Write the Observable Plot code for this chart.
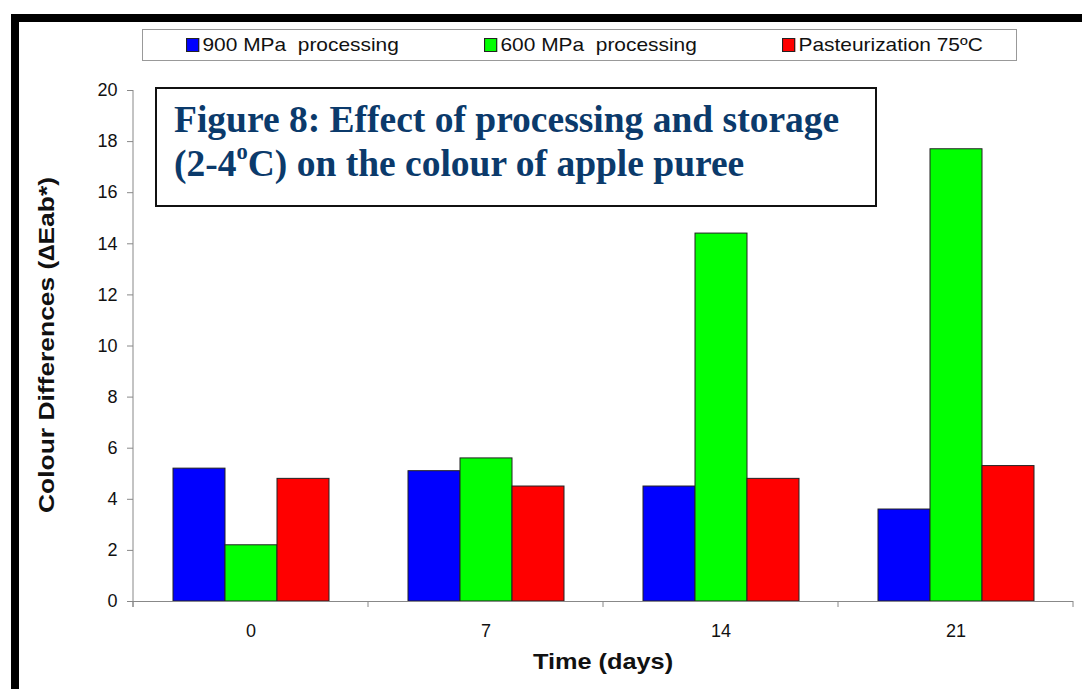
<!DOCTYPE html>
<html><head><meta charset="utf-8">
<script src="https://cdn.jsdelivr.net/npm/d3@7"></script>
<script src="https://cdn.jsdelivr.net/npm/@observablehq/plot@0.6"></script>
<style>
body{margin:0;background:#fff;}
#wrap{position:relative;width:1082px;height:689px;overflow:hidden;font-family:"Liberation Sans",Arial,sans-serif;background:#fff;}
#wrap svg{position:absolute;left:0;top:0;}
.bandTop{position:absolute;left:11px;top:14px;width:1071px;height:8px;background:#000;}
.bandLeft{position:absolute;left:11px;top:14px;width:8px;height:675px;background:#000;}
#legend{position:absolute;left:142px;top:29px;width:875px;height:32px;border:1px solid #999;background:#fff;box-sizing:border-box;}
.item{position:absolute;top:5px;font-size:19px;color:#111;white-space:pre;line-height:20px;transform-origin:0 50%;transform:scaleX(1.1);}
.sw{display:inline-block;width:10px;height:12px;border:1px solid #222;margin-right:3px;vertical-align:-1px;}
#title{position:absolute;left:155px;top:87px;width:722px;height:120px;border:2px solid #111;box-sizing:border-box;background:#fff;
  font-family:"Liberation Serif","Times New Roman",serif;font-weight:bold;font-size:37.5px;line-height:44px;color:#0b3a6b;padding:9px 0 0 17px;white-space:nowrap;}
#title sup{font-size:0.6em;vertical-align:0.75em;line-height:0;}
#ylab{position:absolute;left:47px;top:345px;transform:translate(-50%,-50%) rotate(-90deg) scaleX(1.2);font-weight:bold;font-size:22px;white-space:nowrap;color:#111;}
#xlab{position:absolute;left:603px;top:662px;transform:translate(-50%,-50%) scaleX(1.15);font-weight:bold;font-size:22px;white-space:nowrap;color:#111;}
</style></head><body><div id="wrap"></div>
<script>
const days = ["0", "7", "14", "21"];
const series = ["900 MPa  processing", "600 MPa  processing", "Pasteurization 75ºC"];
const seriesColors = ["#0000ff", "#00ff00", "#ff0000"];
const values900 = [5.2, 5.1, 4.5, 3.6];
const values600 = [2.2, 5.6, 14.4, 17.7];
const valuesPast = [4.8, 4.5, 4.8, 5.3];
const yTicks = [0, 2, 4, 6, 8, 10, 12, 14, 16, 18, 20];
const titleLine1 = "Figure 8: Effect of processing and storage";
const xLabel = "Time (days)";
const yLabel = "Colour Differences (\u2206Eab*)";

const allValues = [values900, values600, valuesPast];
const rows = [];
series.forEach((s, si) => days.forEach((d, di) => rows.push({day: d, series: s, value: allValues[si][di]})));

const plot = Plot.plot({
  width: 1082, height: 689,
  marginLeft: 132, marginRight: 9, marginTop: 90, marginBottom: 88,
  style: {fontFamily: "'Liberation Sans', Arial, sans-serif", fontSize: "18px", color: "#111", background: "transparent"},
  fx: {domain: days, padding: 0},
  x: {domain: series, paddingInner: 0, paddingOuter: 0.745, axis: null},
  y: {domain: [0, 20]},
  color: {domain: series, range: seriesColors},
  marks: [
    Plot.barY(rows, {fx: "day", x: "series", y: "value", fill: "series", stroke: "#222", strokeWidth: 1}),
    Plot.ruleY([0], {stroke: "#888"}),
    Plot.axisY({ticks: yTicks, tickSize: 6, tickPadding: 10, stroke: "#888", fill: "#111", label: null}),
    Plot.axisFx({anchor: "bottom", tickSize: 0, tickPadding: 23, fill: "#111", label: null})
  ]
});

const wrap = document.getElementById("wrap");
wrap.appendChild(plot);

// axis line and category boundary ticks, from the plot's own scales
const ys = plot.scale("y"), fxs = plot.scale("fx");
const y0 = ys.apply(0), yTop = ys.apply(20);
const svg = d3.select(plot);
const left = fxs.apply(days[0]);
svg.append("line").attr("x1", left).attr("x2", left).attr("y1", yTop).attr("y2", y0 + 6).attr("stroke", "#888");
const bounds = days.map(d => fxs.apply(d)).concat([fxs.apply(days[days.length - 1]) + fxs.bandwidth]);
bounds.forEach(b => svg.append("line").attr("x1", b).attr("x2", b).attr("y1", y0).attr("y2", y0 + 6).attr("stroke", "#888"));

// frame bands
const bt = document.createElement("div"); bt.className = "bandTop"; wrap.appendChild(bt);
const bl = document.createElement("div"); bl.className = "bandLeft"; wrap.appendChild(bl);

// legend
const legend = document.createElement("div"); legend.id = "legend";
const itemLeft = [43, 341, 639];
series.forEach((s, i) => {
  const it = document.createElement("div"); it.className = "item"; it.style.left = itemLeft[i] + "px";
  const sw = document.createElement("span"); sw.className = "sw"; sw.style.background = seriesColors[i];
  it.appendChild(sw); it.appendChild(document.createTextNode(s));
  legend.appendChild(it);
});
wrap.appendChild(legend);

// title box
const title = document.createElement("div"); title.id = "title";
title.innerHTML = titleLine1 + "<br>(2-4<sup>o</sup>C) on the colour of apple puree";
wrap.appendChild(title);

const yl = document.createElement("div"); yl.id = "ylab"; yl.textContent = yLabel; wrap.appendChild(yl);
const xl = document.createElement("div"); xl.id = "xlab"; xl.textContent = xLabel; wrap.appendChild(xl);
</script>
</body></html>
